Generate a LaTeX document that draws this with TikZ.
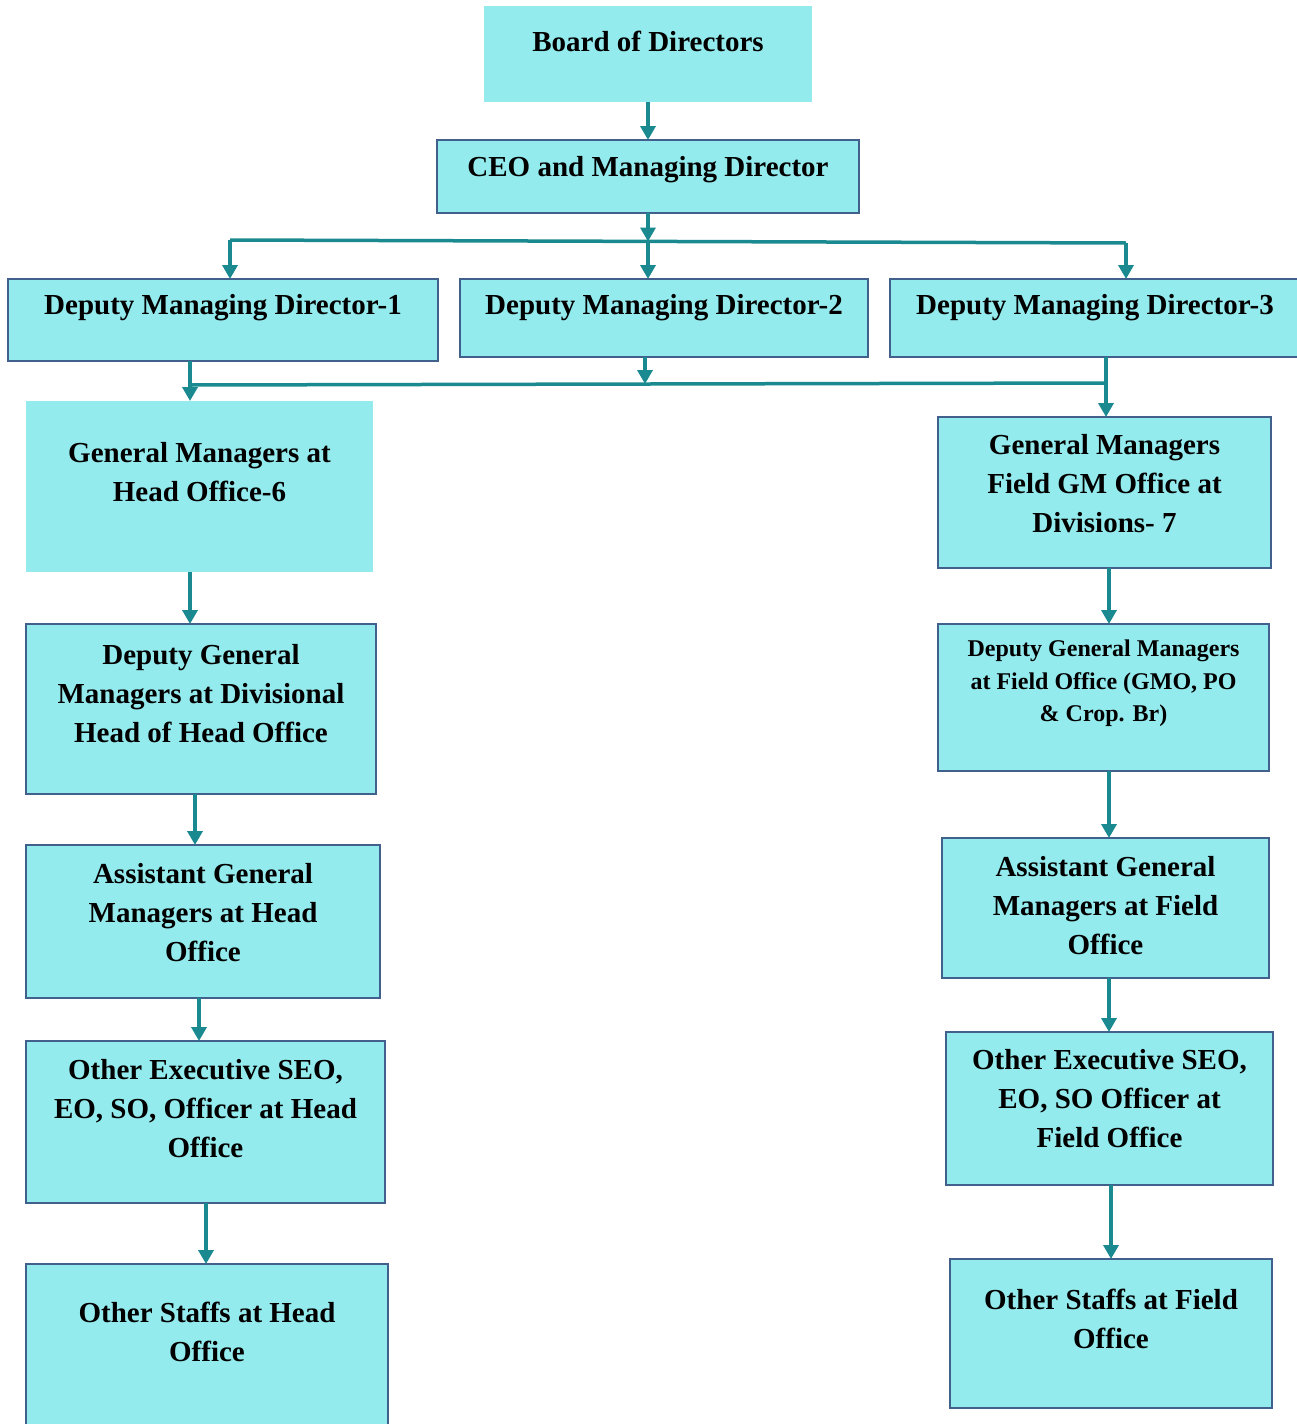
\documentclass[tikz,border=0pt]{standalone}
\usepackage{fontspec}
\setmainfont{Liberation Serif}
\usetikzlibrary{arrows.meta,positioning}
\definecolor{boxfill}{RGB}{148,235,238}
\definecolor{boxline}{RGB}{66,96,140}
\definecolor{linkcol}{RGB}{26,138,144}

\begin{document}
\begin{tikzpicture}[x=1pt,y=1pt]
	\tikzset{every node/.style = {inner sep=0pt, outer sep=0pt},
	box/.style = {rectangle, fill=boxfill, draw=boxline, line width=2pt},
	plainbox/.style = {rectangle, fill=boxfill},
	txt/.style = {align=center, font=\bfseries\fontsize{29}{39}\selectfont},
	smalltxt/.style = {align=center, font=\bfseries\fontsize{24}{32.5}\selectfont},
	link/.style = {draw=linkcol, line width=3.5pt, -{Triangle[length=14pt,width=15pt]}},
	bar/.style = {draw=linkcol, line width=3.5pt}}
\useasboundingbox (0,0) rectangle (1296,-1424);
% top of the chart
\node[plainbox, minimum width=328, minimum height=96] (bod) at (648,-54) {};
\node[txt] (bod-t) at (648,-41) {Board of Directors};
\node[box, minimum width=422, minimum height=73] (ceo) at (648,-176.5) {};
\node[txt] (ceo-t) at (648,-170) {CEO and Managing Director};
\node[box, minimum width=430, minimum height=82] (dmd1) at (223,-320) {};
\node[txt] (dmd1-t) at (223,-308) {Deputy Managing Director-1};
\node[box, minimum width=408, minimum height=78] (dmd2) at (664,-318) {};
\node[txt] (dmd2-t) at (664,-308) {Deputy Managing Director-2};
\node[box, minimum width=410, minimum height=78] (dmd3) at (1095,-318) {};
\node[txt] (dmd3-t) at (1095,-308) {Deputy Managing Director-3};
% head office column
\node[plainbox, minimum width=347, minimum height=171] (gmho) at (199.5,-486.5) {};
\node[txt] (gmho-t) at (199.5,-472.5) {General Managers at\\Head Office-6};
\node[box, minimum width=350, minimum height=170] (dgmho) at (201,-709) {};
\node[txt] (dgmho-t) at (201,-694) {Deputy General\\Managers at Divisional\\Head of Head Office};
\node[box, minimum width=354, minimum height=153] (agmho) at (203,-921.5) {};
\node[txt] (agmho-t) at (203,-913) {Assistant General\\Managers at Head\\Office};
\node[box, minimum width=359, minimum height=162] (oeho) at (205.5,-1122) {};
\node[txt] (oeho-t) at (205.5,-1108.5) {Other Executive SEO,\\EO, SO, Officer at Head\\Office};
\node[box, minimum width=362, minimum height=170] (osho) at (207,-1349) {};
\node[txt] (osho-t) at (207,-1331.5) {Other Staffs at Head\\Office};
% field office column
\node[box, minimum width=333, minimum height=151] (gmf) at (1104.5,-492.5) {};
\node[txt] (gmf-t) at (1104.5,-484) {General Managers\\Field GM Office at\\Divisions- 7};
\node[box, minimum width=331, minimum height=147] (dgmf) at (1103.5,-697.5) {};
\node[smalltxt] (dgmf-t) at (1103.5,-683.5) {Deputy General Managers\\at Field Office (GMO, PO\\\& Crop. Br)};
\node[box, minimum width=327, minimum height=140] (agmf) at (1105.5,-908) {};
\node[txt] (agmf-t) at (1105.5,-905.5) {Assistant General\\Managers at Field\\Office};
\node[box, minimum width=327, minimum height=153] (oef) at (1109.5,-1108.5) {};
\node[txt] (oef-t) at (1109.5,-1099) {Other Executive SEO,\\EO, SO Officer at\\Field Office};
\node[box, minimum width=322, minimum height=149] (osf) at (1111,-1333.5) {};
\node[txt] (osf-t) at (1111,-1319) {Other Staffs at Field\\Office};
% bars
\coordinate (b1l) at (230,-240);
\coordinate (b1m) at (648,-241.5);
\coordinate (b1r) at (1126,-243);
\coordinate (b2l) at (190,-385);
\coordinate (b2m) at (645,-384);
\coordinate (b2r) at (1106,-383);
	\path[bar] (b1l) -- (b1r);
	\path[bar] (b2l) -- (b2r);
% connectors
	\path[link] (bod.south) -- (ceo.north);
	\path[link] (ceo.south) -- (b1m);
	\path[link] (b1l) -- (b1l |- dmd1.north);
	\path[link] (b1m) -- (b1m |- dmd2.north);
	\path[link] (b1r) -- (b1r |- dmd3.north);
	\path[link] (dmd1.south -| b2l) -- (gmho.north -| b2l);
	\path[link] (dmd2.south -| b2m) -- (b2m);
	\path[link] (dmd3.south -| b2r) -- (gmf.north -| b2r);
	\path[link] (gmho.south -| 190,0) -- (dgmho.north -| 190,0);
	\path[link] (dgmho.south -| 195,0) -- (agmho.north -| 195,0);
	\path[link] (agmho.south -| 199,0) -- (oeho.north -| 199,0);
	\path[link] (oeho.south -| 206,0) -- (osho.north -| 206,0);
	\path[link] (gmf.south -| 1109,0) -- (dgmf.north -| 1109,0);
	\path[link] (dgmf.south -| 1109,0) -- (agmf.north -| 1109,0);
	\path[link] (agmf.south -| 1109,0) -- (oef.north -| 1109,0);
	\path[link] (oef.south -| 1111,0) -- (osf.north -| 1111,0);
\end{tikzpicture}
\end{document}
